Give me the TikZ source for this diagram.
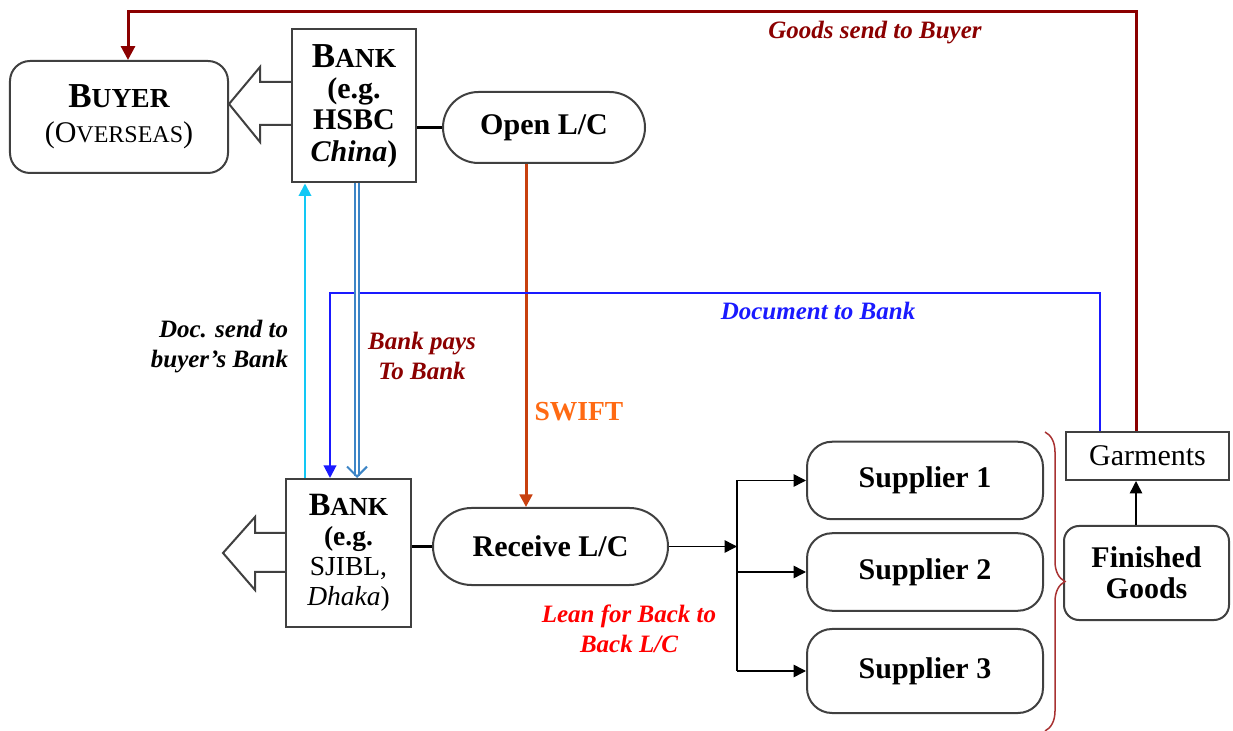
\documentclass[tikz,border=0pt]{standalone}
\usepackage{fontspec}
\setmainfont{Liberation Serif}
\usetikzlibrary{arrows.meta,shapes.misc,decorations.pathreplacing}

\definecolor{boxgray}{HTML}{404040}
\definecolor{goodsred}{HTML}{8B0000}
\definecolor{docblue}{HTML}{1A1AFF}
\definecolor{sendcyan}{HTML}{12C8F5}
\definecolor{payblue}{HTML}{3D85C6}
\definecolor{swiftline}{HTML}{C8400F}
\definecolor{swiftorange}{HTML}{FF6A13}
\definecolor{bracered}{HTML}{A83232}

\tikzset{
  box/.style={draw=boxgray, line width=0.8pt, fill=white, align=center, inner sep=0pt,
    font=\fontsize{12}{12.5}\selectfont\bfseries},
  roundbox/.style={box, rounded corners=8pt},
  pill/.style={box, rounded rectangle},
  supbox/.style={box, rounded corners=10pt, minimum width=94.4pt, minimum height=31pt},
  blockarrow/.style={draw=boxgray, line width=0.8pt, fill=white},
  tip/.style={-{Triangle[length=5pt,width=5pt]}},
  lbl/.style={font=\fontsize{10}{12}\selectfont\bfseries\itshape, align=center},
}

\begin{document}
\begin{tikzpicture}[x=0.4pt,y=-0.4pt]
  \useasboundingbox (0,0) rectangle (1233,731);

  % block arrows out of the banks
  \draw[blockarrow] (292,82) -- (260,82) -- (260,67) -- (229,104) -- (260,142) -- (260,125) -- (292,125);
  \draw[blockarrow] (286,533) -- (255,533) -- (255,517) -- (223,553) -- (255,590) -- (255,572) -- (286,572);

  \node[roundbox, minimum width=87.2pt, minimum height=44.8pt] (buyer) at (119,117)
    {{\fontsize{14}{14}\selectfont B}{\fontsize{11}{14}\selectfont UYER}\\[1.5pt]
     {\mdseries (O{\fontsize{9.6}{14}\selectfont VERSEAS})}};
  \node[box, minimum width=49.6pt, minimum height=61.2pt] (bankTop) at (354,106)
    {{\fontsize{14}{12.5}\selectfont B}{\fontsize{11}{12.5}\selectfont ANK}\\(e.g.\\HSBC\\\textit{China})};
  \node[pill, minimum width=80.8pt, minimum height=28.4pt] (openLC) at (544,127.5) {Open L/C};

  \node[box, minimum width=50pt, minimum height=59.2pt, font=\fontsize{11}{12}\selectfont\bfseries]
    (bankBot) at (348.5,553)
    {{\fontsize{13}{12}\selectfont B}{\fontsize{10.4}{12}\selectfont ANK}\\(e.g.\\{\mdseries SJIBL,}\\{\mdseries\textit{Dhaka})}};
  \node[pill, minimum width=94pt, minimum height=30.8pt] (receiveLC) at (550.5,546.5) {Receive L/C};

  \node[supbox] (sup1) at (925,480.5) {Supplier 1};
  \node[supbox] (sup2) at (925,572) {Supplier 2};
  \node[supbox, minimum height=33.6pt] (sup3) at (925,671) {Supplier 3};

  \node[box, minimum width=65.2pt, minimum height=19.2pt, font=\fontsize{12}{14}\selectfont]
    (garments) at (1147.5,456) {Garments};
  \node[roundbox, rounded corners=6pt, minimum width=66pt, minimum height=37.6pt]
    (finished) at (1146.5,573) {Finished\\Goods};

  % bank to L/C
  \draw[line width=1.2pt] (bankTop.east |- openLC.west) -- (openLC.west);
  \draw[line width=1.2pt] (bankBot.east |- receiveLC.west) -- (receiveLC.west);

  % L/C to suppliers
  \coordinate (split) at (737,546.5);
  \draw[tip, line width=0.6pt] (receiveLC.east) -- (split);
  \draw[line width=0.6pt] (sup1.west -| split) -- (sup3.west -| split);
  \foreach \s in {sup1,sup2,sup3}
    \draw[tip, line width=0.6pt] (\s.west -| split) -- (\s.west);

  \draw[tip, line width=0.6pt] ([xshift=-4.2pt]finished.north) -- ([xshift=-4.2pt]finished.north |- garments.south);

  % SWIFT
  \draw[swiftline, line width=1.2pt, -{Triangle[length=5pt,width=5pt]}]
    ([xshift=-7.2pt]openLC.south) -- ([xshift=-7.2pt]openLC.south |- receiveLC.north);

  % goods back to buyer
  \coordinate (goodsTop) at (128,12);
  \draw[goodsred, line width=1.2pt, -{Triangle[length=5.5pt,width=5.5pt]}]
    ([xshift=-4.6pt]garments.north) |- (goodsTop) -- (goodsTop |- buyer.north);

  % documents to bank
  \coordinate (docTop) at (330,293);
  \draw[docblue, line width=0.8pt, -{Triangle[length=5pt,width=5pt]}]
    ([xshift=-19pt]garments.north) |- (docTop) -- (docTop |- bankBot.north);

  % between the banks
  \draw[sendcyan, line width=0.8pt, -{Triangle[length=5pt,width=5pt]}]
    ([xshift=-17.4pt]bankBot.north) -- ([xshift=-17.4pt]bankBot.north |- bankTop.south);
  \draw[payblue, line width=0.8pt, double=white, double distance=1pt, -{Straight Barb[length=4pt,width=8pt]}]
    ([xshift=1.2pt]bankTop.south) -- ([xshift=1.2pt]bankTop.south |- bankBot.north);

  \draw[bracered, line width=0.6pt, decorate, decoration={brace, amplitude=8pt}] (1045,432) -- (1045,731);

  % labels
  \node[lbl, text=goodsred] (goodsLbl) at (875,33) {Goods send to Buyer};
  \node[lbl, text=docblue] (docLbl) at (818,311) {Document to Bank};
  \node[lbl, align=right, anchor=east] (sendLbl) at (297,347) {Doc. send to\\buyer's Bank};
  \node[lbl, text=goodsred] (paysLbl) at (422,356) {Bank pays\\ To Bank};
  \node[font=\fontsize{11}{13}\selectfont\bfseries, text=swiftorange] (swiftLbl) at (579,412) {SWIFT};
  \node[lbl, text=red] (leanLbl) at (629,629) {Lean for Back to\\Back L/C};
\end{tikzpicture}
\end{document}
